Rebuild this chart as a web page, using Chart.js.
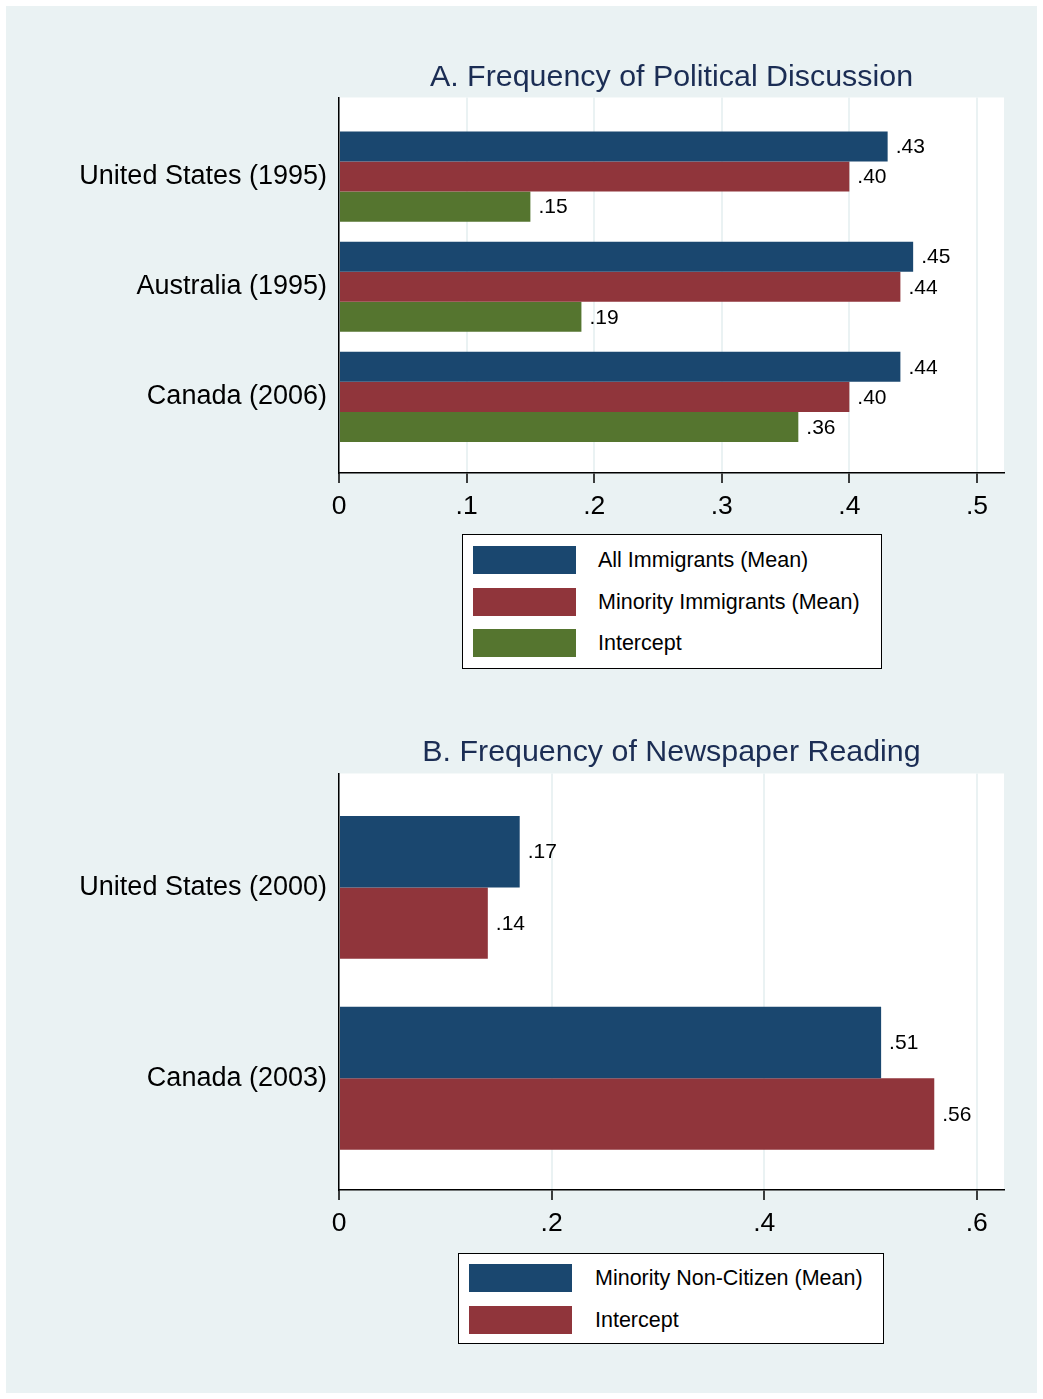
<!DOCTYPE html>
<html>
<head>
<meta charset="utf-8">
<script src="https://cdn.jsdelivr.net/npm/chart.js@4.4.1/dist/chart.umd.min.js"></script>
<style>
  body { margin: 0; background: #fff; }
  #page { position: absolute; left: 6px; top: 6px; width: 1031px; height: 1387px; background: #EAF2F3; }
  canvas { position: absolute; left: 0; }
  .legend { position: absolute; background: #fff; border: 1.5px solid #000; box-sizing: border-box;
            font-family: "Liberation Sans", Arial, sans-serif; font-size: 21.5px; color: #000; }
  .swatch { position: absolute; width: 103px; height: 28px; }
  .ltext { position: absolute; line-height: 28px; white-space: nowrap; }
</style>
</head>
<body>
<div id="page"></div>
<canvas id="chartA" width="1043" height="530" style="top:0"></canvas>
<canvas id="chartB" width="1043" height="547" style="top:700px"></canvas>
<div id="legendA" class="legend" style="left:462px; top:534px; width:420px; height:135px"></div>
<div id="legendB" class="legend" style="left:458px; top:1253px; width:426px; height:91px"></div>
<script>
const countriesA = ['United States (1995)', 'Australia (1995)', 'Canada (2006)'];
const allImmigrants = [0.43, 0.45, 0.44];
const minorityImmigrants = [0.40, 0.44, 0.40];
const interceptA = [0.15, 0.19, 0.36];
const ticksA = [0, 0.1, 0.2, 0.3, 0.4, 0.5];

const countriesB = ['United States (2000)', 'Canada (2003)'];
const minorityNonCitizen = [0.17, 0.51];
const interceptB = [0.14, 0.56];
const ticksB = [0, 0.2, 0.4, 0.6];

const NAVY = '#1A476F', MAROON = '#90353B', GREEN = '#55752F';
const FONT = '"Liberation Sans", Arial, sans-serif';

Chart.defaults.font.family = FONT;
Chart.defaults.color = '#000';

// bar labels: .40 style, tick labels: .1 style
function fmtBar(v) {
  return v.toFixed(2).replace(/^0\./, '.');
}
function fmtTick(v) {
  return Number(v.toFixed(1)).toString().replace(/^0\./, '.');
}

const plotBg = {
  id: 'plotBg',
  beforeDraw(chart) {
    const a = chart.chartArea, ctx = chart.ctx;
    ctx.save();
    ctx.fillStyle = '#fff';
    ctx.fillRect(a.left, a.top, a.right - a.left, a.bottom - a.top);
    ctx.restore();
  }
};

const barLabels = {
  id: 'barLabels',
  afterDatasetsDraw(chart) {
    const ctx = chart.ctx;
    ctx.save();
    ctx.font = '21px ' + FONT;
    ctx.fillStyle = '#000';
    ctx.textAlign = 'left';
    ctx.textBaseline = 'middle';
    chart.data.datasets.forEach((ds, di) => {
      chart.getDatasetMeta(di).data.forEach((el, i) => {
        ctx.fillText(fmtBar(ds.data[i].x), el.x + 8, el.y + 1);
      });
    });
    ctx.restore();
  }
};

function makeChart(id, cats, series, xTicks, xMax, yMin, yMax, catPct, title, titlePadTop, titlePadBottom) {
  return new Chart(document.getElementById(id), {
    type: 'bar',
    data: {
      datasets: series.map(s => ({
        label: s.label,
        data: s.values.map((v, i) => ({ x: v, y: i })),
        backgroundColor: s.color,
        borderWidth: 0
      }))
    },
    options: {
      indexAxis: 'y',
      responsive: false,
      animation: false,
      devicePixelRatio: 1,
      categoryPercentage: catPct,
      barPercentage: 1,
      layout: { padding: { left: 0, right: 39, top: 0, bottom: 0 } },
      plugins: {
        legend: { display: false },
        tooltip: { enabled: false },
        title: {
          display: true,
          text: title,
          fullSize: false,
          color: '#1B2D54',
          font: { size: 30.4, weight: 'normal', family: FONT },
          padding: { top: titlePadTop, bottom: titlePadBottom }
        }
      },
      scales: {
        x: {
          type: 'linear',
          min: 0,
          max: xMax,
          offset: false,
          afterFit: s => { s.height = 57; },
          afterBuildTicks: s => { s.ticks = xTicks.map(v => ({ value: v })); },
          ticks: {
            callback: v => fmtTick(v),
            font: { size: 26.5 },
            padding: 8,
            maxRotation: 0
          },
          grid: {
            color: '#EAF2F3',
            lineWidth: 2,
            tickColor: '#000',
            tickWidth: 1.5,
            tickLength: 10
          },
          border: { display: true, color: '#000', width: 1.5 }
        },
        y: {
          type: 'linear',
          reverse: true,
          offset: false,
          min: yMin,
          max: yMax,
          afterFit: s => { s.width = 339; },
          afterBuildTicks: s => { s.ticks = cats.map((c, i) => ({ value: i })); },
          ticks: {
            callback: v => cats[v],
            font: { size: 27 },
            padding: 12
          },
          grid: { display: true, drawOnChartArea: false, drawTicks: false },
          border: { display: true, color: '#000', width: 1.5 }
        }
      }
    },
    plugins: [plotBg, barLabels]
  });
}

const seriesA = [
  { label: 'All Immigrants (Mean)', values: allImmigrants, color: NAVY },
  { label: 'Minority Immigrants (Mean)', values: minorityImmigrants, color: MAROON },
  { label: 'Intercept', values: interceptA, color: GREEN }
];
const seriesB = [
  { label: 'Minority Non-Citizen (Mean)', values: minorityNonCitizen, color: NAVY },
  { label: 'Intercept', values: interceptB, color: MAROON }
];

makeChart('chartA', countriesA, seriesA, ticksA, 0.5212, -0.718, 2.691, 0.818,
  'A. Frequency of Political Discussion', 59, 2);
makeChart('chartB', countriesB, seriesB, ticksB, 0.6256, -0.597, 1.586, 0.749,
  'B. Frequency of Newspaper Reading', 34, 3);

function buildLegend(id, series, rowTops, textLeft) {
  const box = document.getElementById(id);
  series.forEach((s, i) => {
    const sw = document.createElement('div');
    sw.className = 'swatch';
    sw.style.left = '10px';
    sw.style.top = rowTops[i] + 'px';
    sw.style.background = s.color;
    box.appendChild(sw);
    const t = document.createElement('div');
    t.className = 'ltext';
    t.style.left = textLeft + 'px';
    t.style.top = rowTops[i] + 'px';
    t.textContent = s.label;
    box.appendChild(t);
  });
}
buildLegend('legendA', seriesA, [11, 53, 94], 135);
buildLegend('legendB', seriesB, [10, 52], 136);
</script>
</body>
</html>
